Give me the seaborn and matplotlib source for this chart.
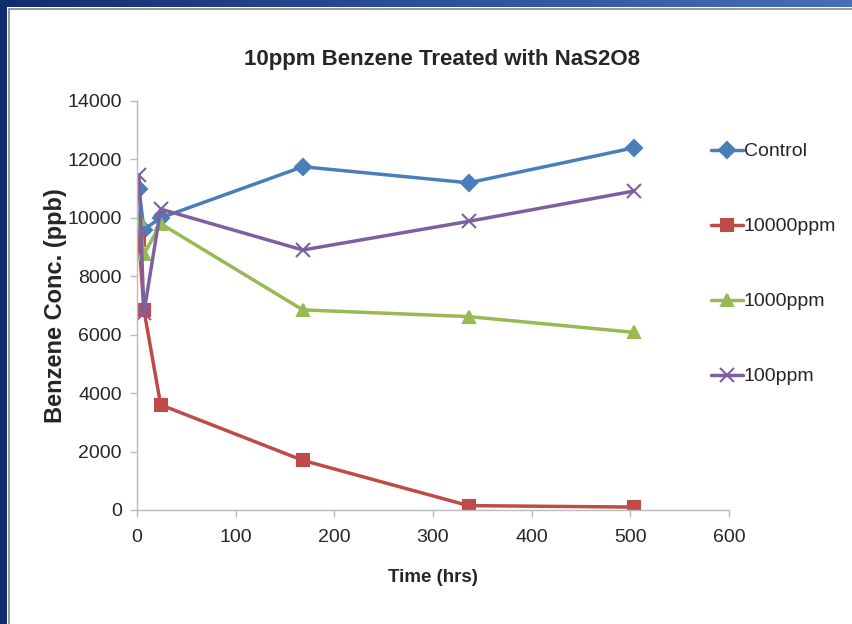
import matplotlib
matplotlib.use("Agg")
import matplotlib.pyplot as plt
import seaborn as sns
import numpy as np
import pandas as pd
from matplotlib.patches import Rectangle
from matplotlib.colors import LinearSegmentedColormap

# ---- data ----
times = [2, 7, 24, 168, 336, 504]
control = [11000, 9600, 10000, 11750, 11200, 12400]
ppm10000 = [9250, 6850, 3600, 1700, 150, 100]
ppm1000 = [9950, 8750, 9800, 6850, 6620, 6080]
ppm100 = [11450, 6750, 10300, 8900, 9880, 10920]
series_names = ["Control", "10000ppm", "1000ppm", "100ppm"]
x_ticks = [0, 100, 200, 300, 400, 500, 600]
y_ticks = [0, 2000, 4000, 6000, 8000, 10000, 12000, 14000]

rows = []
for name, vals in zip(series_names, [control, ppm10000, ppm1000, ppm100]):
    for t, v in zip(times, vals):
        rows.append({"Time": t, "Conc": v, "Series": name})
df = pd.DataFrame(rows)

sns.set_theme(style="white")
plt.rcParams["font.family"] = ["Liberation Sans", "DejaVu Sans"]

palette = {"Control": "#4A7EBB", "10000ppm": "#BE4B48", "1000ppm": "#98B954", "100ppm": "#7D60A0"}
markers = {"Control": "D", "10000ppm": "s", "1000ppm": "^", "100ppm": "x"}
msizes = {"Control": 8, "10000ppm": 9, "1000ppm": 9, "100ppm": 10}

fig = plt.figure(figsize=(8.52, 6.24), dpi=100)
fig.patch.set_facecolor("white")
ax = fig.add_axes([137/852, 1-510/624, (729-137)/852, (510-101)/624])

for name in series_names:
    sub = df[df["Series"] == name]
    sns.lineplot(data=sub, x="Time", y="Conc", color=palette[name], marker=markers[name],
                 markersize=msizes[name], markeredgewidth=1.5, markeredgecolor=palette[name],
                 linewidth=2.5, ax=ax, sort=False, label=name)

ax.set_xlim(0, 600)
ax.set_ylim(0, 14000)
ax.set_xticks(x_ticks)
ax.set_yticks(y_ticks)
ax.tick_params(axis="y", labelsize=14, length=5, width=1, color="#BBBBBB",
               direction="out", pad=6, left=True)
ax.tick_params(axis="x", labelsize=14, length=5, width=1, color="#BBBBBB",
               direction="out", pad=9, bottom=True)
for s in ["top", "right"]:
    ax.spines[s].set_visible(False)
for s in ["left", "bottom"]:
    ax.spines[s].set_color("#BBBBBB")
    ax.spines[s].set_linewidth(1)

ax.set_xlabel("Time (hrs)", fontsize=13.5, fontweight="bold", labelpad=16)
ax.set_ylabel("Benzene Conc. (ppb)", fontsize=17, fontweight="bold", labelpad=0)
fig.text(442/852, 1-60/624, "10ppm Benzene Treated with NaS2O8", ha="center", va="center",
         fontsize=16, fontweight="bold")

handles, labels = ax.get_legend_handles_labels()
ax.legend(handles, labels, loc="upper left", bbox_to_anchor=(703/852, 1-135/624),
          bbox_transform=fig.transFigure, frameon=False, fontsize=14,
          labelspacing=2.95, handlelength=1.65, handletextpad=0.05, borderaxespad=0)

# slide frame
grad = np.linspace(0, 1, 256).reshape(1, -1)
cmap = LinearSegmentedColormap.from_list("b", ["#0F2D6E", "#2E4F9A", "#4A6DB8"])
tax = fig.add_axes([0, 1-7/624, 1, 7/624])
tax.imshow(grad, aspect="auto", cmap=cmap)
tax.axis("off")
fig.patches.append(Rectangle((0, 0), 7/852, 1, transform=fig.transFigure,
                             facecolor="#0F2D6E", edgecolor="none", zorder=5))
fig.patches.append(Rectangle((8/852, 0), 2/852, 1-8/624, transform=fig.transFigure,
                             facecolor="#9A9A9A", edgecolor="none", zorder=5))
fig.patches.append(Rectangle((8/852, 1-10/624), 1-8/852, 2/624, transform=fig.transFigure,
                             facecolor="#9A9A9A", edgecolor="none", zorder=5))

fig.savefig("out.png", dpi=100)
